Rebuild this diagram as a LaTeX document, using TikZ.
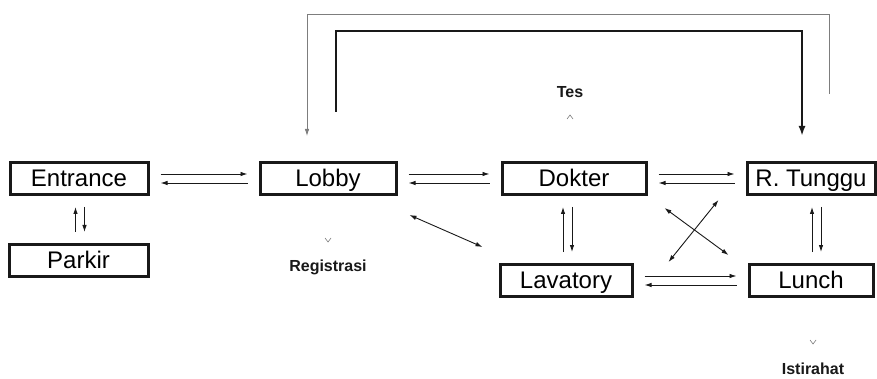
\documentclass[tikz,border=0pt]{standalone}
\usepackage{fontspec}
\setmainfont{Liberation Sans}
\usepackage{xcolor}
\usepackage{tikz}
\usetikzlibrary{arrows.meta,calc}
\definecolor{ScanInk}  {RGB}{ 25, 25, 25}
\definecolor{ScanGray} {RGB}{125,125,125}
\tikzset{
  room/.style={draw=ScanInk, line width=3pt, minimum height=32pt, inner sep=1pt,
    text height=19pt, text depth=2.5pt, font=\fontsize{24}{25}\selectfont},
  flow/.style={ScanInk, line width=0.9pt, shorten >=11pt, shorten <=11pt,
    -{Latex[length=7pt,width=4.5pt]}},
  both/.style={ScanInk, line width=0.9pt,
    {Latex[length=7pt,width=4.5pt]}-{Latex[length=7pt,width=4.5pt]}},
  tesline/.style={ScanInk, line width=2.6pt, -{Latex[length=10pt,width=7pt]}},
  backline/.style={ScanGray, line width=0.8pt, -{Latex[length=7pt,width=4.5pt]}},
  tag/.style={text=ScanInk, font=\fontsize{16}{17}\selectfont\bfseries},
  caret/.style={ScanGray, line width=0.6pt}
}

\begin{document}
\begin{tikzpicture}[x=1pt,y=-1pt]
  \useasboundingbox (0,0) rectangle (877,379);
  % rooms
  \node[room, minimum width=138pt] (entrance) at (79,178.5)  {Entrance};
  \node[room, minimum width=139pt] (parkir)   at (78.5,260.5){Parkir};
  \node[room, minimum width=136pt] (lobby)    at (328,178.5) {Lobby};
  \node[room, minimum width=144pt] (dokter)   at (574,178.5) {Dokter};
  \node[room, minimum width=128pt] (tunggu)   at (811,178.5) {R. Tunggu};
  \node[room, minimum width=132pt] (lavatory) at (566,280.5) {Lavatory};
  \node[room, minimum width=124pt] (lunch)    at (811,280.5) {Lunch};
  % labels
  \node[tag] (tes)        at (570,92)  {Tes};
  \node[tag] (registrasi) at (328,267) {Registrasi};
  \node[tag] (istirahat)  at (813,369) {Istirahat};
  \draw[caret] ($(tes)+(-3,27)$) -- ($(tes)+(0,23)$) -- ($(tes)+(3,27)$);
  \draw[caret] ($(registrasi)+(-3,-29)$) -- ($(registrasi)+(0,-25)$) -- ($(registrasi)+(3,-29)$);
  \draw[caret] ($(istirahat)+(-3,-29)$) -- ($(istirahat)+(0,-25)$) -- ($(istirahat)+(3,-29)$);
  % horizontal pairs
  \draw[flow] ([yshift=4.5pt]entrance.east) -- ([yshift=4.5pt]lobby.west);
  \draw[flow] ([yshift=-4.5pt]lobby.west) -- ([yshift=-4.5pt]entrance.east);
  \draw[flow] ([yshift=4.5pt]lobby.east) -- ([yshift=4.5pt]dokter.west);
  \draw[flow] ([yshift=-4.5pt]dokter.west) -- ([yshift=-4.5pt]lobby.east);
  \draw[flow] ([yshift=4.5pt]dokter.east) -- ([yshift=4.5pt]tunggu.west);
  \draw[flow] ([yshift=-4.5pt]tunggu.west) -- ([yshift=-4.5pt]dokter.east);
  \draw[flow] ([yshift=4.5pt]lavatory.east) -- ([yshift=4.5pt]lunch.west);
  \draw[flow] ([yshift=-4.5pt]lunch.west) -- ([yshift=-4.5pt]lavatory.east);
  % vertical pairs
  \draw[flow] ($(parkir.north)+(-3,0)$) -- ($(parkir.north |- entrance.south)+(-3,0)$);
  \draw[flow] ($(parkir.north |- entrance.south)+(6,0)$) -- ($(parkir.north)+(6,0)$);
  \draw[flow] ($(lavatory.north)+(-3,0)$) -- ($(lavatory.north |- dokter.south)+(-3,0)$);
  \draw[flow] ($(lavatory.north |- dokter.south)+(6,0)$) -- ($(lavatory.north)+(6,0)$);
  \draw[flow] ($(lunch.north)+(1,0)$) -- ($(tunggu.south)+(1,0)$);
  \draw[flow] ($(tunggu.south)+(10,0)$) -- ($(lunch.north)+(10,0)$);
  % diagonals
  \draw[both] ($(lobby.south east)+(12,19)$) -- ($(lavatory.north west)+(-16,-16)$);
  \draw[both] ($(dokter.south east)+(17,12)$) -- ($(lunch.north west)+(-19,-8)$);
  \draw[both] ($(tunggu.south west)+(-27,4)$) -- ($(lavatory.north east)+(35,-1)$);
  % Tes route over the top
  \draw[tesline] ($(lobby.north)+(8,-49)$) -- ++(0,-81) -| ($(tunggu.north)+(-9,-25)$);
  \draw[backline] ($(tunggu.north)+(18,-67)$) -- ++(0,-80) -| ($(lobby.north)+(-21,-25)$);
\end{tikzpicture}
\end{document}
